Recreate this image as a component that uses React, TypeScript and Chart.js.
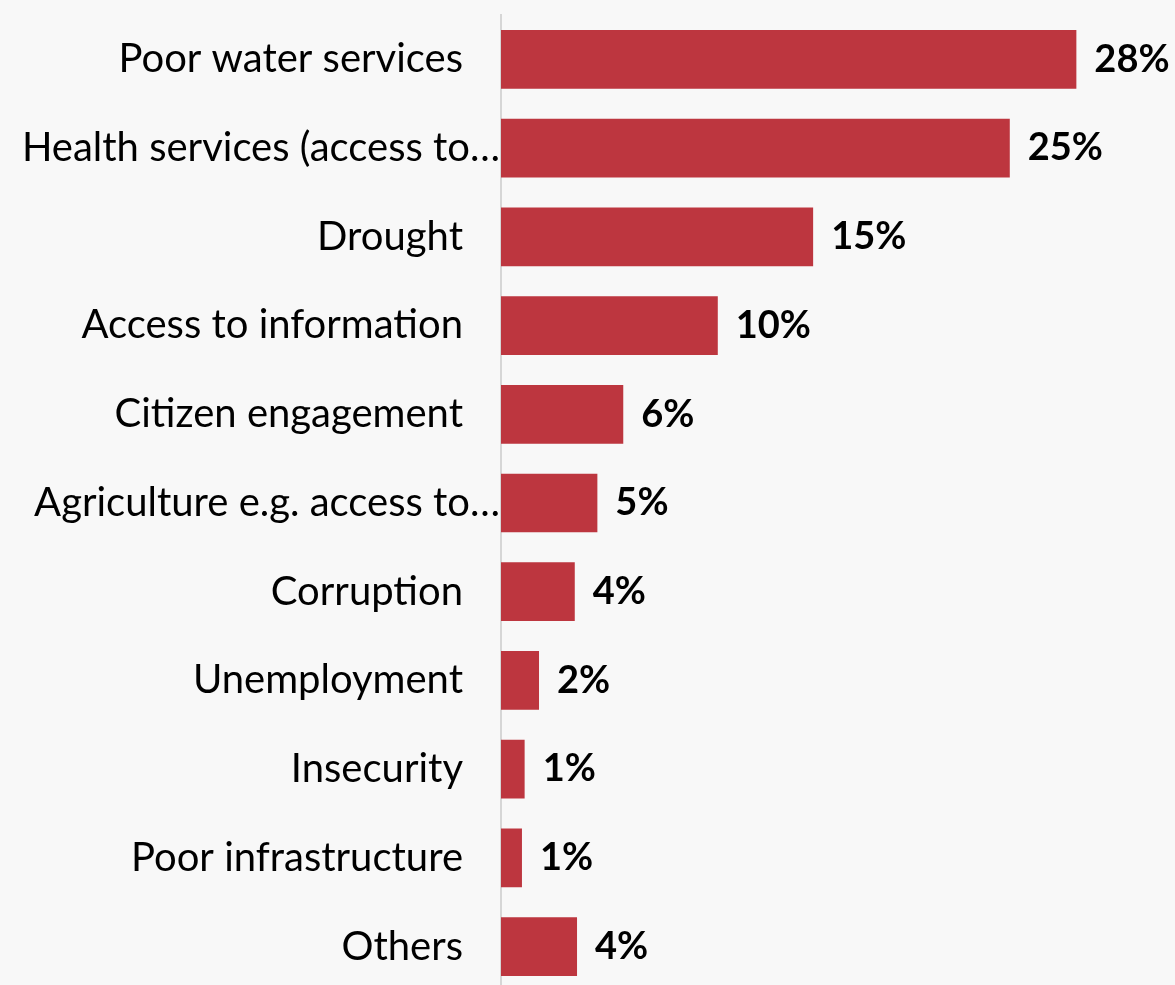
import React, { useEffect, useRef } from "react";
import { Chart, registerables } from "chart.js";

Chart.register(...registerables);

const categories = [
  "Poor water services",
  "Health services (access to…",
  "Drought",
  "Access to information",
  "Citizen engagement",
  "Agriculture e.g. access to…",
  "Corruption",
  "Unemployment",
  "Insecurity",
  "Poor infrastructure",
  "Others",
];

const values = [28.0, 24.76, 15.19, 10.55, 5.95, 4.69, 3.59, 1.85, 1.15, 1.02, 3.7];

const valueLabels = ["28%", "25%", "15%", "10%", "6%", "5%", "4%", "2%", "1%", "1%", "4%"];

const BAR_COLOR = "#BD363F";
const BG_COLOR = "#F8F8F8";
const FONT_FAMILY = "Lato, 'Noto Sans', sans-serif";

const backgroundPlugin = {
  id: "bgFill",
  beforeDraw(chart: any) {
    const { ctx, width, height } = chart;
    ctx.save();
    ctx.fillStyle = BG_COLOR;
    ctx.fillRect(0, 0, width, height);
    ctx.restore();
  },
};

const labelsPlugin = {
  id: "customLabels",
  afterDatasetsDraw(chart: any) {
    const { ctx, chartArea } = chart;
    const yScale = chart.scales.y;
    const meta = chart.getDatasetMeta(0);
    ctx.save();
    ctx.fillStyle = "#000000";
    ctx.textBaseline = "middle";
    // category labels
    ctx.font = `40px ${FONT_FAMILY}`;
    ctx.textAlign = "right";
    categories.forEach((label, i) => {
      const y = yScale.getPixelForValue(i);
      const truncated = label.endsWith("…");
      const x = truncated ? chartArea.left - 1 : chartArea.left - 38;
      ctx.fillText(label, x, y);
    });
    // value labels
    ctx.font = `bold 38px ${FONT_FAMILY}`;
    ctx.textAlign = "left";
    meta.data.forEach((bar: any, i: number) => {
      ctx.fillText(valueLabels[i], bar.x + 18, bar.y);
    });
    ctx.restore();
  },
};

export default function App() {
  const canvasRef = useRef<HTMLCanvasElement | null>(null);

  useEffect(() => {
    document.body.style.margin = "0";
    const canvas = canvasRef.current;
    if (!canvas) return;
    const chart = new Chart(canvas, {
      type: "bar",
      data: {
        labels: categories,
        datasets: [
          {
            data: values,
            backgroundColor: BAR_COLOR,
            borderWidth: 0,
            categoryPercentage: 1,
            barPercentage: 0.662,
          },
        ],
      },
      options: {
        indexAxis: "y",
        responsive: false,
        animation: false,
        devicePixelRatio: 1,
        layout: { padding: { top: 15, right: 0, bottom: 0, left: 0 } },
        plugins: {
          legend: { display: false },
          tooltip: { enabled: false },
        },
        scales: {
          x: {
            display: false,
            min: 0,
            max: 32.8,
          },
          y: {
            type: "category",
            offset: true,
            grid: { display: false },
            border: { display: true, color: "#D6D6D6", width: 2 },
            ticks: { display: false },
            afterFit(scale: any) {
              scale.width = 501;
            },
          },
        },
      },
      plugins: [backgroundPlugin, labelsPlugin],
    });
    return () => chart.destroy();
  }, []);

  return (
    <div style={{ width: 1175, height: 985, overflow: "hidden", background: BG_COLOR }}>
      <canvas ref={canvasRef} width={1175} height={991} style={{ display: "block" }} />
    </div>
  );
}
